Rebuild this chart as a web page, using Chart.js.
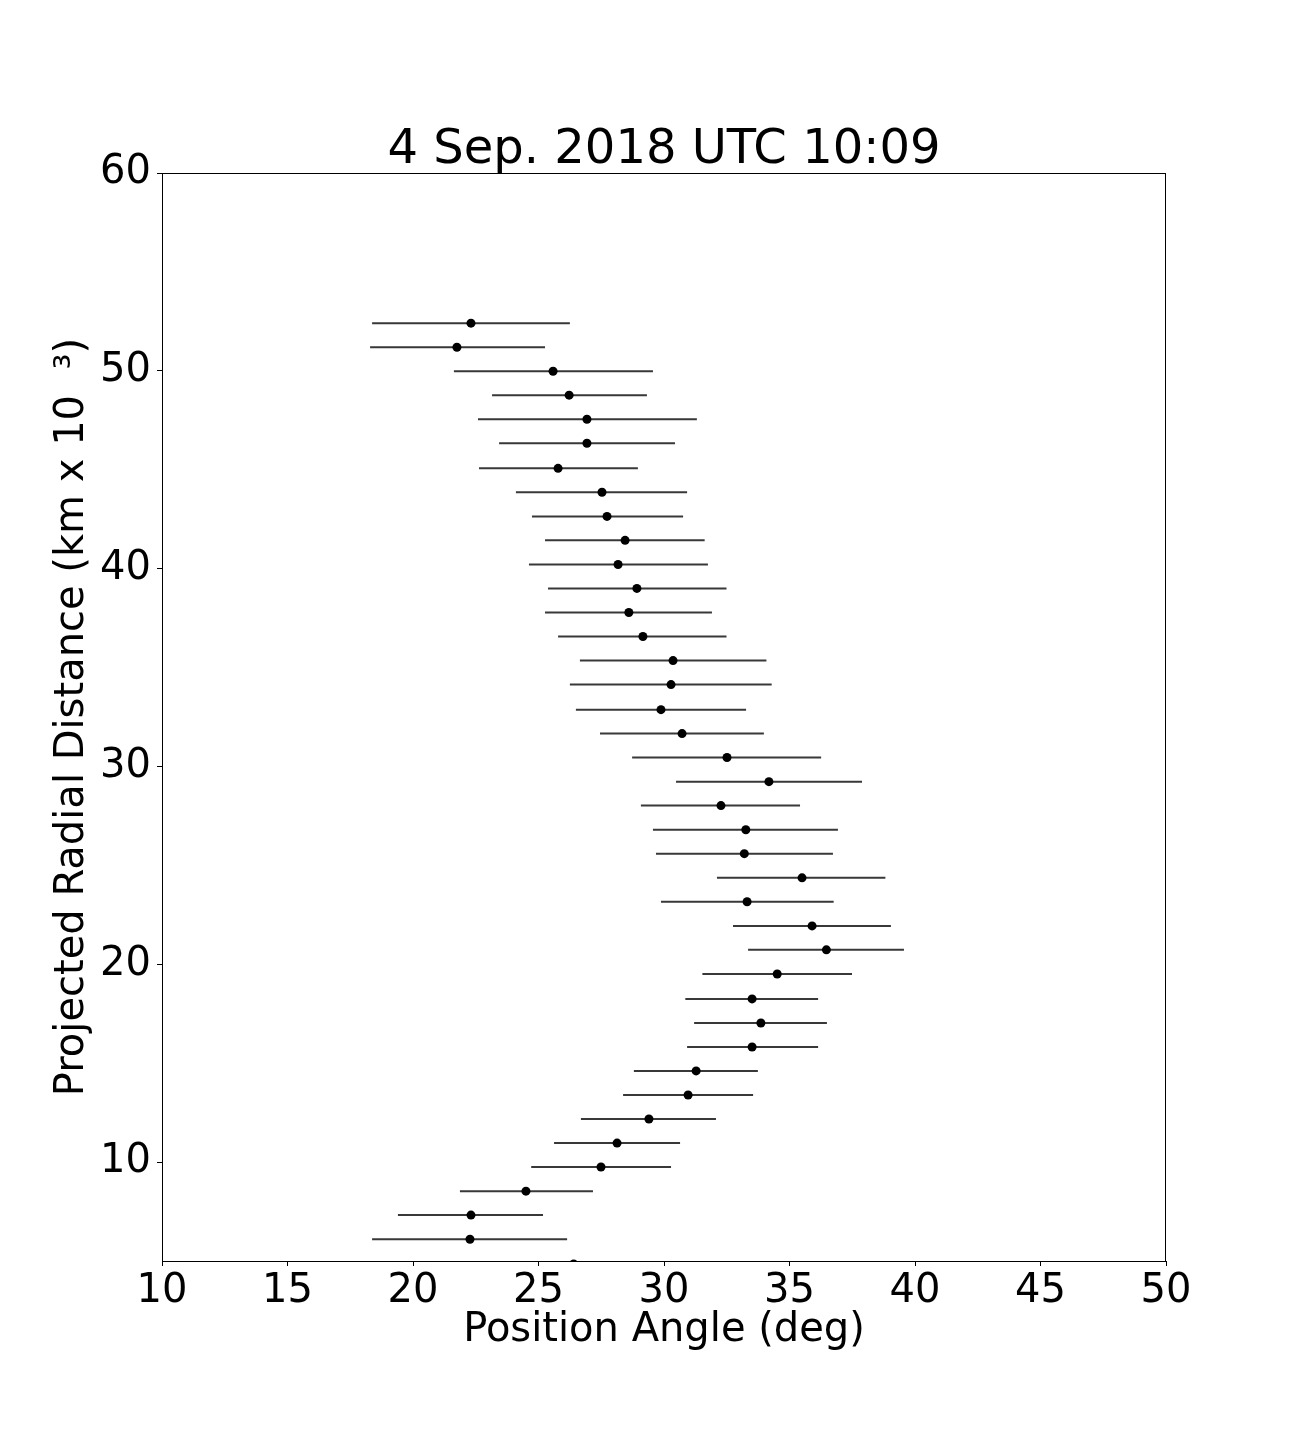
<!DOCTYPE html>
<html>
<head>
<meta charset="utf-8">
<script src="https://cdn.jsdelivr.net/npm/chart.js@4.4.1/dist/chart.umd.min.js"></script>
<style>
  body { margin: 0; background: #fff; }
  #wrap { width: 1296px; height: 1440px; }
</style>
</head>
<body>
<div id="wrap"><canvas id="chart-pa" width="1296" height="1440"></canvas></div>
<script>
// projected radial distance (km x 10^3), top to bottom
const distance = [52.41, 51.19, 49.98, 48.77, 47.55, 46.34, 45.07, 43.86, 42.64, 41.43,
                  40.21, 39.00, 37.78, 36.57, 35.35, 34.14, 32.87, 31.66, 30.45, 29.23,
                  28.02, 26.80, 25.59, 24.37, 23.16, 21.94, 20.73, 19.51, 18.25, 17.03,
                  15.82, 14.61, 13.39, 12.18, 10.96, 9.75, 8.53, 7.32, 6.10, 4.85];
// position angle (deg)
const angle = [22.31, 21.75, 25.58, 26.22, 26.93, 26.93, 25.78, 27.53, 27.73, 28.45,
               28.17, 28.92, 28.60, 29.16, 30.36, 30.28, 29.88, 30.72, 32.51, 34.18,
               32.27, 33.26, 33.20, 35.50, 33.31, 35.90, 36.47, 34.51, 33.51, 33.86,
               33.51, 31.28, 30.96, 29.40, 28.13, 27.49, 24.50, 22.31, 22.27, 26.40];
// error bar ends (deg)
const angleLow = [18.37, 18.29, 21.63, 23.15, 22.59, 23.43, 22.63, 24.10, 24.74, 25.26,
                  24.62, 25.38, 25.26, 25.78, 26.65, 26.25, 26.49, 27.45, 28.73, 30.48,
                  29.08, 29.56, 29.68, 32.11, 29.88, 32.75, 33.35, 31.53, 30.85, 31.20,
                  30.92, 28.80, 28.37, 26.69, 25.62, 24.71, 21.87, 19.40, 18.37, null];
const angleHigh = [26.25, 25.26, 29.56, 29.32, 31.31, 30.44, 28.96, 30.92, 30.76, 31.62,
                   31.75, 32.49, 31.91, 32.49, 34.08, 34.29, 33.27, 33.98, 36.26, 37.89,
                   35.42, 36.93, 36.73, 38.82, 36.76, 39.04, 39.56, 37.49, 36.14, 36.49,
                   36.14, 33.74, 33.55, 32.07, 30.64, 30.28, 27.17, 25.18, 26.14, null];
const xTicks = [10, 15, 20, 25, 30, 35, 40, 45, 50];
const yTicks = [10, 20, 30, 40, 50, 60];
const titleText = '4 Sep. 2018 UTC 10:09';

Chart.defaults.font.family = "'DejaVu Sans', sans-serif";
Chart.defaults.color = '#000';

const points = distance.map((d, i) => ({ x: angle[i], y: d }));
const bars = [];
distance.forEach((d, i) => {
    if (angleLow[i] === null) return;
    bars.push({ x: angleLow[i], y: d }, { x: angleHigh[i], y: d }, { x: angleHigh[i], y: null });
});

// box around the axes + title centred over the plot area
const frame = {
    id: 'frame',
    afterDraw(chart) {
        const { ctx, chartArea: a } = chart;
        ctx.save();
        ctx.strokeStyle = '#000';
        ctx.lineWidth = 1;
        ctx.strokeRect(a.left + 0.5, a.top + 0.5, a.right - a.left - 1, a.bottom - a.top);
        ctx.fillStyle = '#000';
        ctx.font = "48px 'DejaVu Sans', sans-serif";
        ctx.textAlign = 'center';
        ctx.textBaseline = 'alphabetic';
        ctx.fillText(titleText, (a.left + a.right) / 2, a.top - 10);
        ctx.restore();
    }
};

const ctx = document.getElementById('chart-pa').getContext('2d');
const myChart = new Chart(ctx, {
    type: 'scatter',
    data: {
        datasets: [
            {
                label: 'PA',
                data: points,
                backgroundColor: '#000',
                borderColor: '#000',
                pointRadius: 4.5,
                pointBorderWidth: 0,
                order: 0,
                clip: 0
            },
            {
                label: 'error',
                data: bars,
                showLine: true,
                spanGaps: false,
                borderColor: '#383838',
                borderWidth: 2,
                pointRadius: 0,
                order: 1
            }
        ]
    },
    options: {
        responsive: false,
        animation: false,
        layout: { padding: { left: 0, right: 130, top: 173, bottom: 0 } },
        plugins: {
            legend: { display: false },
            tooltip: { enabled: false },
            title: { display: false }
        },
        scales: {
            x: {
                type: 'linear',
                min: 10,
                max: 50,
                afterFit: s => { s.height = 179; },
                afterBuildTicks: s => { s.ticks = xTicks.map(v => ({ value: v })); },
                ticks: { font: { size: 40 }, padding: 2, maxRotation: 0, color: '#000' },
                grid: { drawOnChartArea: false, tickLength: 5, color: '#000' },
                border: { color: '#000', width: 1 },
                title: {
                    display: true,
                    text: 'Position Angle (deg)',
                    font: { size: 40, lineHeight: 1 },
                    padding: { top: 0, bottom: 89 },
                    color: '#000'
                }
            },
            y: {
                type: 'linear',
                min: 5,
                max: 60,
                afterFit: s => { s.width = 162; },
                afterBuildTicks: s => { s.ticks = yTicks.map(v => ({ value: v })); },
                ticks: { font: { size: 40 }, padding: 6, color: '#000' },
                grid: { drawOnChartArea: false, tickLength: 5, color: '#000' },
                border: { color: '#000', width: 1 },
                title: {
                    display: true,
                    text: 'Projected Radial Distance (km x 10  \u00b3)',
                    font: { size: 40, lineHeight: 1 },
                    padding: { top: 53, bottom: 0 },
                    color: '#000'
                }
            }
        }
    },
    plugins: [frame]
});
</script>
</body>
</html>
